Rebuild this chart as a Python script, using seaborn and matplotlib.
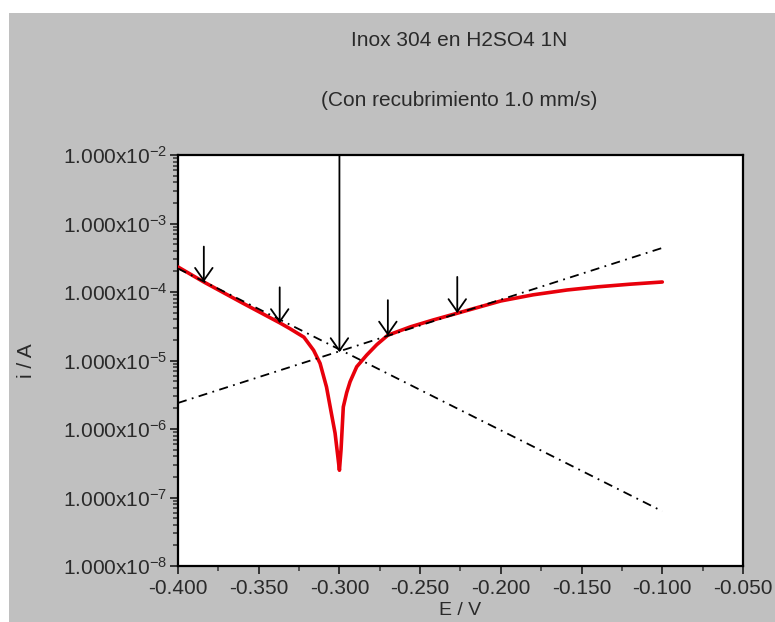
import numpy as np
import pandas as pd
import matplotlib
matplotlib.use("Agg")
import matplotlib.pyplot as plt
import matplotlib.ticker as mticker
from matplotlib.patches import Rectangle
import seaborn as sns

# polarization scan (E in V, i in A)
E_scan = [-0.400, -0.384, -0.360, -0.337, -0.331, -0.322, -0.316, -0.312, -0.308,
          -0.305, -0.3027, -0.3010, -0.3000, -0.2990, -0.2976, -0.2955, -0.2934,
          -0.2893, -0.2831, -0.2769, -0.270, -0.256, -0.242, -0.227, -0.200, -0.180,
          -0.159, -0.140, -0.120, -0.100]
i_scan = [2.32e-4, 1.40e-4, 6.9e-5, 3.55e-5, 2.95e-5, 2.19e-5, 1.41e-5, 9.1e-6, 4.1e-6,
          1.70e-6, 8.7e-7, 4.0e-7, 2.5e-7, 5.0e-7, 2.1e-6, 3.4e-6, 4.9e-6,
          8.1e-6, 1.20e-5, 1.70e-5, 2.34e-5, 3.1e-5, 3.9e-5, 4.9e-5, 7.4e-5, 9.1e-5,
          1.07e-4, 1.19e-4, 1.30e-4, 1.40e-4]

# tafel extrapolations
E_cath = [-0.400, -0.100]
i_cath = [2.2e-4, 6.3e-8]
E_anod = [-0.400, -0.100]
i_anod = [2.4e-6, 4.4e-4]

# arrows: x, start, tip
arrow_E = [-0.384, -0.337, -0.300, -0.270, -0.227]
arrow_from = [4.6e-4, 1.17e-4, 1.0e-2, 7.6e-5, 1.66e-4]
arrow_to = [1.4e-4, 3.5e-5, 1.32e-5, 2.3e-5, 4.9e-5]

title1 = "Inox 304 en H2SO4 1N"
title2 = "(Con recubrimiento 1.0 mm/s)"

sns.set_style("ticks")
plt.rcParams['font.family'] = ['Liberation Sans', 'DejaVu Sans']
plt.rcParams['mathtext.fontset'] = 'custom'
plt.rcParams['mathtext.rm'] = 'Liberation Sans'
plt.rcParams['mathtext.it'] = 'Liberation Sans'

txt = '#2a2a2a'
fig = plt.figure(figsize=(7.75, 6.22), dpi=100, facecolor='white')
fig.patches.append(Rectangle((9 / 775, 0), 1, (622 - 13) / 622, transform=fig.transFigure,
                             facecolor='#c0c0c0', edgecolor='none', zorder=-10))
ax = fig.add_axes([178 / 775, 1 - 566 / 622, (743 - 178) / 775, (566 - 155) / 622])
ax.set_facecolor('white')

df_scan = pd.DataFrame({'E': E_scan, 'i': i_scan})
sns.lineplot(data=df_scan, x='E', y='i', color='#e8000b', lw=2.6, sort=False, ax=ax, zorder=3)
dash = (0, (5, 3, 1, 3))
sns.lineplot(x=E_cath, y=i_cath, color='black', lw=1.3, linestyle=dash, ax=ax, zorder=4)
sns.lineplot(x=E_anod, y=i_anod, color='black', lw=1.3, linestyle=dash, ax=ax, zorder=4)

for x, y0, y1 in zip(arrow_E, arrow_from, arrow_to):
    ax.annotate('', xy=(x, y1), xytext=(x, y0),
                arrowprops=dict(arrowstyle='->,head_length=0.5,head_width=0.35', color='black',
                                lw=1.3, mutation_scale=18, shrinkA=0, shrinkB=0), zorder=5)

ax.set_yscale('log')
ax.set_xlim(-0.400, -0.050)
ax.set_ylim(1e-8, 1e-2)
ax.set_xticks(np.arange(-0.400, -0.049, 0.050))
ax.xaxis.set_minor_locator(mticker.MultipleLocator(0.025))
ax.xaxis.set_major_formatter(mticker.FuncFormatter(lambda v, p: f'{v:.3f}'))
ax.yaxis.set_major_locator(mticker.LogLocator(base=10, numticks=20))
ax.yaxis.set_minor_locator(mticker.LogLocator(base=10, subs=np.arange(2, 10), numticks=20))
ax.yaxis.set_minor_formatter(mticker.NullFormatter())
ax.yaxis.set_major_formatter(mticker.FuncFormatter(
    lambda v, p: r'$1.000\mathrm{x}10^{%d}$' % int(round(np.log10(v)))))

for s in ax.spines.values():
    s.set_color('black')
    s.set_linewidth(1.6)
ax.tick_params(which='major', direction='out', length=6, width=1.4, labelsize=15,
               labelcolor=txt, color='#333333')
ax.tick_params(which='minor', direction='out', length=3.5, width=1.1, color='#333333')
ax.tick_params(axis='x', pad=3)
ax.tick_params(axis='y', pad=2)
ax.grid(False)

ax.set_xlabel('E / V', fontsize=14, color=txt)
ax.set_ylabel('i / A', fontsize=15, color=txt)
ax.xaxis.set_label_coords(0.5, -0.088)
ax.yaxis.set_label_coords(-0.251, 0.5)

fig.text(459 / 775, 1 - 40 / 622, title1, ha='center', va='center', fontsize=15, color=txt)
fig.text(459 / 775, 1 - 100 / 622, title2, ha='center', va='center', fontsize=15, color=txt)

fig.savefig('out.png', dpi=100, facecolor=fig.get_facecolor())
